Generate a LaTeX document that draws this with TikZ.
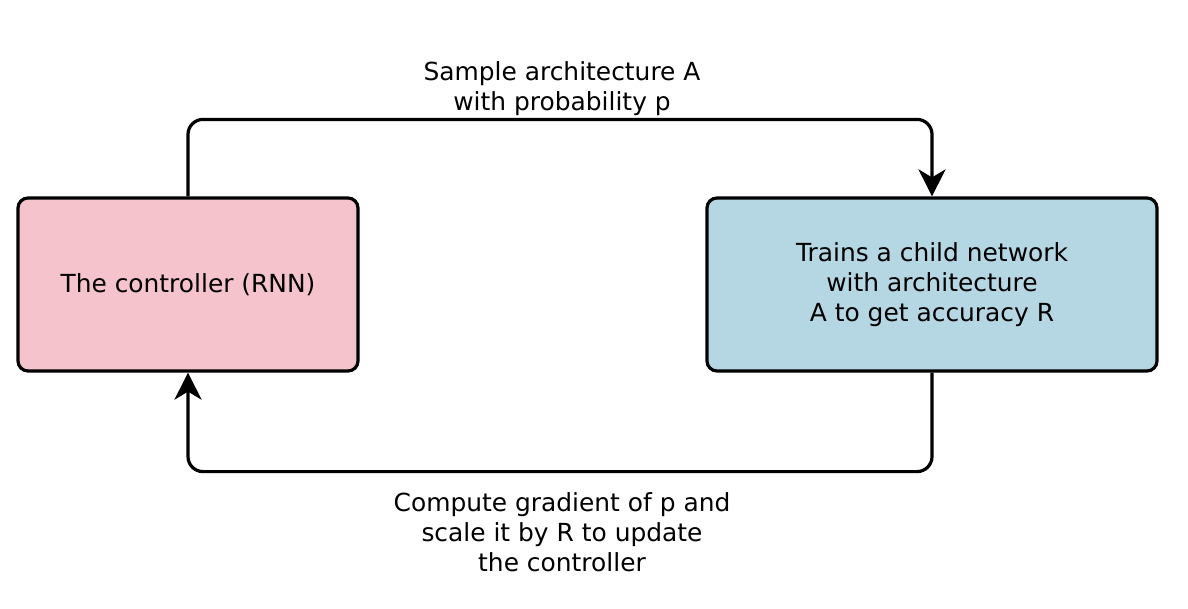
\documentclass[tikz,border=0pt]{standalone}
\usepackage{fontspec}
\setmainfont{DejaVu Sans}
\usetikzlibrary{arrows.meta}
\definecolor{ctrlpink}{RGB}{245,195,203}
\definecolor{childblue}{RGB}{181,215,227}
\begin{document}
\begin{tikzpicture}[
		x=1pt,y=-1pt,
		font=\fontsize{24.9}{30}\selectfont,
		box/.style={draw,line width=3.2pt,rounded corners=10pt,align=center,inner sep=0pt},
		flow/.style={line width=3.2pt,rounded corners=15pt,-{Stealth[length=27pt,width=27pt,inset=8pt]}},
		tlabel/.style={align=center},
	]
	\useasboundingbox (0,0) rectangle (1188,608);
	\node[box,fill=ctrlpink,minimum width=340pt,minimum height=173pt] (ctrl) at (188,284.5) {The controller (RNN)};
	\node[box,fill=childblue,minimum width=450pt,minimum height=173pt] (child) at (932,284.5) {Trains a child network\\with architecture\\A to get accuracy R};
	\draw[flow] (ctrl.north) -- ++(0,-77) -| (child.north);
	\draw[flow] (child.south) -- ++(0,99) -| (ctrl.south);
	\node[tlabel] (sample) at (562,89) {Sample architecture A\\with probability p};
	\node[tlabel] (update) at (562,532) {Compute gradient of p and\\scale it by R to update\\the controller};
\end{tikzpicture}
\end{document}
